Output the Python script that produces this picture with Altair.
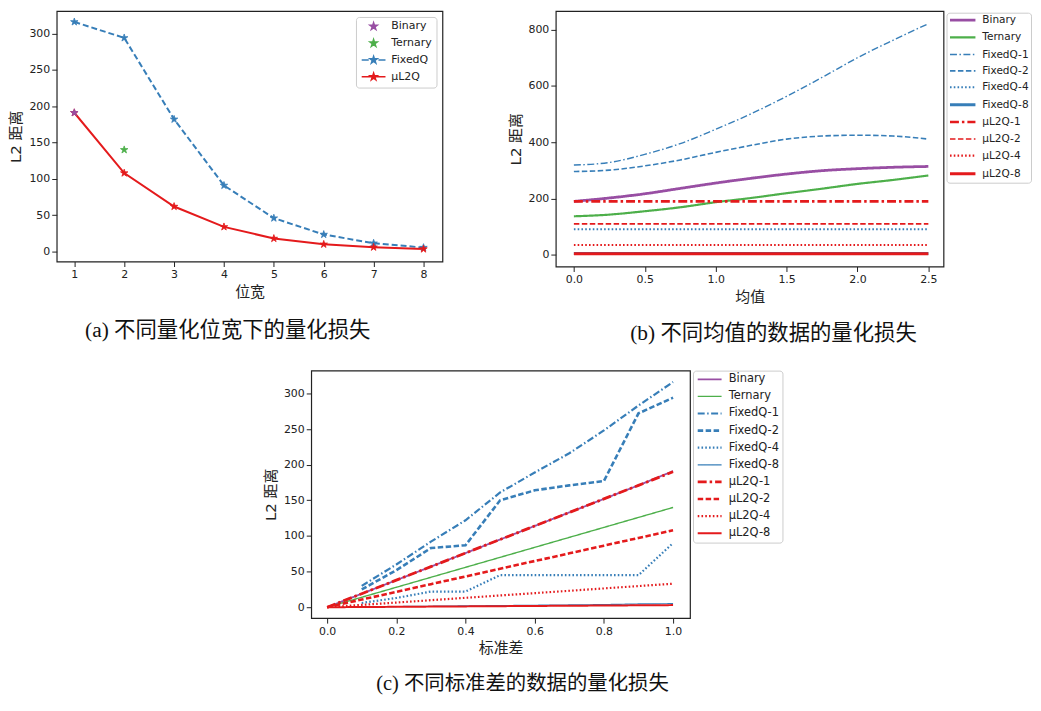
import altair as alt
import pandas as pd

# ---------------- data ----------------
series = ["Binary", "Ternary", "FixedQ-1", "FixedQ-2", "FixedQ-4", "FixedQ-8",
          "μL2Q-1", "μL2Q-2", "μL2Q-4", "μL2Q-8"]

# (a) loss vs bit width
a_bits = [1, 2, 3, 4, 5, 6, 7, 8]
a_fixedq = [316, 294, 182, 91, 46, 23.5, 11.5, 5.5]
a_ul2q = [191, 108, 62, 34, 18, 10, 6, 3.5]
a_binary_bits = [1]
a_binary = [191]
a_ternary_bits = [2]
a_ternary = [140]

# (b) loss vs mean
b_mean = [0.0, 0.25, 0.5, 0.75, 1.0, 1.25, 1.5, 1.75, 2.0, 2.25, 2.5]
b_binary = [190, 202, 217, 236, 255, 272, 287, 299, 306, 311, 314]
b_ternary = [137, 143, 155, 169, 187, 202, 219, 235, 252, 266, 282]
b_fixedq1 = [319, 328, 357, 395, 446, 501, 563, 630, 700, 762, 821]
b_fixedq2 = [296, 301, 316, 337, 364, 389, 411, 422, 425, 422, 411]
b_fixedq4 = [91, 91, 91, 91, 91, 91, 91, 91, 91, 91, 91]
b_fixedq8 = [5, 5, 5, 5, 5, 5, 5, 5, 5, 5, 5]
b_ul2q1 = [190, 190, 190, 190, 190, 190, 190, 190, 190, 190, 190]
b_ul2q2 = [110, 110, 110, 110, 110, 110, 110, 110, 110, 110, 110]
b_ul2q4 = [35, 35, 35, 35, 35, 35, 35, 35, 35, 35, 35]
b_ul2q8 = [4, 4, 4, 4, 4, 4, 4, 4, 4, 4, 4]

# (c) loss vs standard deviation
c_std = [0.0, 0.1, 0.2, 0.3, 0.4, 0.5, 0.6, 0.7, 0.8, 0.9, 1.0]
c_binary = [0, 19, 38, 57, 76, 95, 114, 133, 152, 171, 191]
c_ternary = [0, 14, 28, 42, 56, 70, 84, 98, 112, 126, 140]
c_fixedq1 = [None, 30, 60, 92, 122, 161, 189, 216, 248, 283, 316]
c_fixedq2 = [None, 25, 52, 83, 87, 150, 164, 171, 177, 272, 294]
c_fixedq4 = [None, 6, 13, 22, 22, 45, 45, 45, 45, 45, 90]
c_fixedq8 = [None, 0.5, 1.0, 1.4, 1.9, 2.3, 2.8, 3.2, 3.7, 4.6, 5.0]
c_ul2q1 = [0, 19, 38, 57, 76, 95, 114, 133, 152, 171, 190]
c_ul2q2 = [0, 10.8, 21.6, 32.4, 43.2, 54, 64.8, 75.6, 86.4, 97.2, 108]
c_ul2q4 = [0, 3.3, 6.6, 9.9, 13.2, 16.5, 19.8, 23.1, 26.4, 29.7, 33]
c_ul2q8 = [0, 0.3, 0.6, 0.9, 1.2, 1.5, 1.8, 2.1, 2.4, 2.7, 3.0]

captions = ["(a) 不同量化位宽下的量化损失",
            "(b) 不同均值的数据的量化损失",
            "(c) 不同标准差的数据的量化损失"]

# ---------------- styles ----------------
PURPLE, GREEN, BLUE, RED = "#984ea3", "#4daf4a", "#377eb8", "#e41a1c"
colors = [PURPLE, GREEN, BLUE, BLUE, BLUE, BLUE, RED, RED, RED, RED]
SOLID = [1, 0]
DASHDOT = [7, 2.5, 1.5, 2.5]
DASHDOT_W = [9, 3, 2.5, 3]
DASHED = [5.5, 2.5]
DOTTED = [1.6, 2.2]
b_dash = [SOLID, SOLID, DASHDOT, DASHED, DOTTED, SOLID, DASHDOT_W, DASHED, DOTTED, SOLID]
c_dash = [SOLID, SOLID, DASHDOT, DASHED, DOTTED, SOLID, DASHDOT_W, DASHED, DOTTED, SOLID]
b_width = [2.8, 2.2, 1.4, 1.6, 2.0, 3.0, 2.6, 1.6, 2.2, 3.0]
c_width = [1.8, 1.4, 2.2, 2.6, 2.2, 1.2, 2.8, 2.6, 2.2, 2.0]

FONT = "DejaVu Sans, Noto Sans CJK SC"
CAP_FONT = "Liberation Serif, Noto Sans CJK SC"


def star(cx=0.0):
    pts = [(0, -1), (0.225, -0.309), (0.951, -0.309), (0.363, 0.118), (0.588, 0.809),
           (0, 0.382), (-0.588, 0.809), (-0.363, 0.118), (-0.951, -0.309), (-0.225, -0.309)]
    return "M" + "L".join(f"{x + cx:.3f},{y:.3f}" for x, y in pts) + "Z"


STAR = star()
LEG_A = {
    "Binary": star(2.2),
    "Ternary": star(2.2),
    "FixedQ": "M-1,0L0.9,0M3.5,0L5.4,0" + star(2.2),
    "μL2Q": "M-1,0L5.4,0" + star(2.2),
}
LINE_B = "M-1,0L5.4,0"
LINE_C = "M-1,0L5,0"


def caption(text, offset, dx, size=21.5):
    return alt.TitleParams(text=text, orient="bottom", anchor="middle", font=CAP_FONT,
                           fontSize=size, fontWeight="normal", color="#111111",
                           offset=offset, dx=dx)


# ---------------- panel (a) ----------------
xa = alt.X("bit:Q", scale=alt.Scale(domain=[0.647, 8.38], nice=False, zero=False),
           axis=alt.Axis(values=a_bits, format="d", title="位宽"))
ya = alt.Y("v:Q", scale=alt.Scale(domain=[-13.7, 331], nice=False, zero=False),
           axis=alt.Axis(values=[0, 50, 100, 150, 200, 250, 300], title="L2 距离"))

df_fixed = pd.DataFrame({"bit": a_bits, "v": a_fixedq})
df_ul2q = pd.DataFrame({"bit": a_bits, "v": a_ul2q})
df_bin = pd.DataFrame({"bit": a_binary_bits, "v": a_binary})
df_ter = pd.DataFrame({"bit": a_ternary_bits, "v": a_ternary})


def pts(df, col):
    return alt.Chart(df).mark_point(shape=STAR, filled=True, size=62, color=col,
                                    opacity=1, strokeWidth=0.8, stroke=col).encode(x=xa, y=ya)


fixed_line = alt.Chart(df_fixed).mark_line(color=BLUE, strokeWidth=2, strokeDash=[6, 3]).encode(x=xa, y=ya)
ul2q_line = alt.Chart(df_ul2q).mark_line(color=RED, strokeWidth=2).encode(x=xa, y=ya)

a_names = list(LEG_A.keys())
a_cols = [PURPLE, GREEN, BLUE, RED]
leg_a = alt.Legend(title=None, orient="top-right", offset=6, padding=4, rowPadding=2.9,
                   labelFont="DejaVu Sans", labelFontSize=11, labelColor="#222222",
                   labelOffset=20.5, symbolSize=56, symbolStrokeWidth=1.5,
                   strokeColor="#cccccc", fillColor="white", cornerRadius=3)
legend_layer = alt.Chart(pd.DataFrame({"s": a_names})).transform_filter("false").mark_point(
    filled=True, opacity=1).encode(
    color=alt.Color("s:N", scale=alt.Scale(domain=a_names, range=a_cols), legend=leg_a),
    stroke=alt.Stroke("s:N", scale=alt.Scale(domain=a_names, range=a_cols), legend=leg_a),
    shape=alt.Shape("s:N", scale=alt.Scale(domain=a_names, range=[LEG_A[n] for n in a_names]), legend=leg_a),
)

panel_a = alt.layer(
    fixed_line, ul2q_line, pts(df_fixed, BLUE), pts(df_ul2q, RED), pts(df_bin, PURPLE),
    pts(df_ter, GREEN), legend_layer
).properties(width=388, height=252, title=caption(captions[0], 21, -22))


# ---------------- panels (b) and (c) ----------------
def long_df(xs, values, xname):
    rows = []
    for name, vals in zip(series, values):
        for x, v in zip(xs, vals):
            rows.append({xname: x, "v": v, "s": name})
    return pd.DataFrame(rows)


def line_panel(df, xname, xdom, xticks, ydom, yticks, xtitle, widths, dashes, sym,
               label_offset, row_pad, label_size, pad, leg_x, leg_y, interp,
               w, h, cap):
    leg = alt.Legend(title=None, orient="none", legendX=leg_x, legendY=leg_y, padding=pad,
                     rowPadding=row_pad, labelFont="DejaVu Sans", labelFontSize=label_size,
                     labelColor="#222222", labelOffset=label_offset, symbolType=sym,
                     symbolSize=64, strokeColor="#cccccc", fillColor="white", cornerRadius=3)
    return alt.Chart(df).mark_line(interpolate=interp).encode(
        x=alt.X(f"{xname}:Q", scale=alt.Scale(domain=xdom, nice=False, zero=False),
                axis=alt.Axis(values=xticks, format=".1f", title=xtitle)),
        y=alt.Y("v:Q", scale=alt.Scale(domain=ydom, nice=False, zero=False),
                axis=alt.Axis(values=yticks, format="d", title="L2 距离")),
        color=alt.Color("s:N", scale=alt.Scale(domain=series, range=colors), legend=leg),
        strokeDash=alt.StrokeDash("s:N", scale=alt.Scale(domain=series, range=dashes), legend=leg),
        strokeWidth=alt.StrokeWidth("s:N", scale=alt.Scale(type="ordinal", domain=series, range=widths), legend=leg),
    ).properties(width=w, height=h, title=cap)


b_df = long_df(b_mean, [b_binary, b_ternary, b_fixedq1, b_fixedq2, b_fixedq4, b_fixedq8,
                        b_ul2q1, b_ul2q2, b_ul2q4, b_ul2q8], "m")
c_df = long_df(c_std, [c_binary, c_ternary, c_fixedq1, c_fixedq2, c_fixedq4, c_fixedq8,
                       c_ul2q1, c_ul2q2, c_ul2q4, c_ul2q8], "sd")

panel_b = line_panel(b_df, "m", [-0.1276, 2.607], [0, 0.5, 1.0, 1.5, 2.0, 2.5],
                     [-41.3, 866], [0, 200, 400, 600, 800], "均值", b_width, b_dash, LINE_B,
                     23, 5.4, 10.6, 2, 393, 1.7, "monotone", 390, 257,
                     caption(captions[1], 18.6, 24))
panel_c = line_panel(c_df, "sd", [-0.046, 1.049], [0, 0.2, 0.4, 0.6, 0.8, 1.0],
                     [-15.3, 332], [0, 50, 100, 150, 200, 250, 300], "标准差", c_width, c_dash,
                     LINE_C, 21.4, 4.2, 11.5, 3, 384, 0, "linear", 381, 249,
                     caption(captions[2], 18.5, 22, 20.5))

# invisible spacer that shifts panel (c) to the centre of the page
spacer = alt.Chart(pd.DataFrame({"k": [0]})).mark_point(opacity=0).encode(
    x=alt.value(0), y=alt.value(0)
).properties(width=255.5, height=10, view=alt.ViewBackground(stroke="transparent"))

RES = dict(color="independent", strokeDash="independent", strokeWidth="independent",
           shape="independent", stroke="independent")

top = alt.hconcat(panel_a, panel_b, spacing=114, bounds="flush").resolve_scale(**RES).resolve_legend(**RES)
bottom = alt.hconcat(spacer, panel_c, spacing=0, bounds="flush").resolve_scale(**RES).resolve_legend(**RES)

chart = alt.vconcat(top, bottom, spacing=361.7, bounds="flush").resolve_scale(**RES).resolve_legend(
    **RES).properties(
    padding={"left": 0, "top": 0, "right": 0, "bottom": 0}, background="white"
).configure_view(
    stroke="#222222", strokeWidth=1.2
).configure_axis(
    grid=False, domain=False, tickColor="#222222", tickSize=5, tickWidth=1,
    labelFont="DejaVu Sans", labelFontSize=11, labelColor="#222222", labelPadding=2,
    titleFont=FONT, titleFontSize=15, titleFontWeight="normal", titleColor="#222222",
    titlePadding=5
)

chart.save("out.html", embed_options={"renderer": "svg", "actions": False})
